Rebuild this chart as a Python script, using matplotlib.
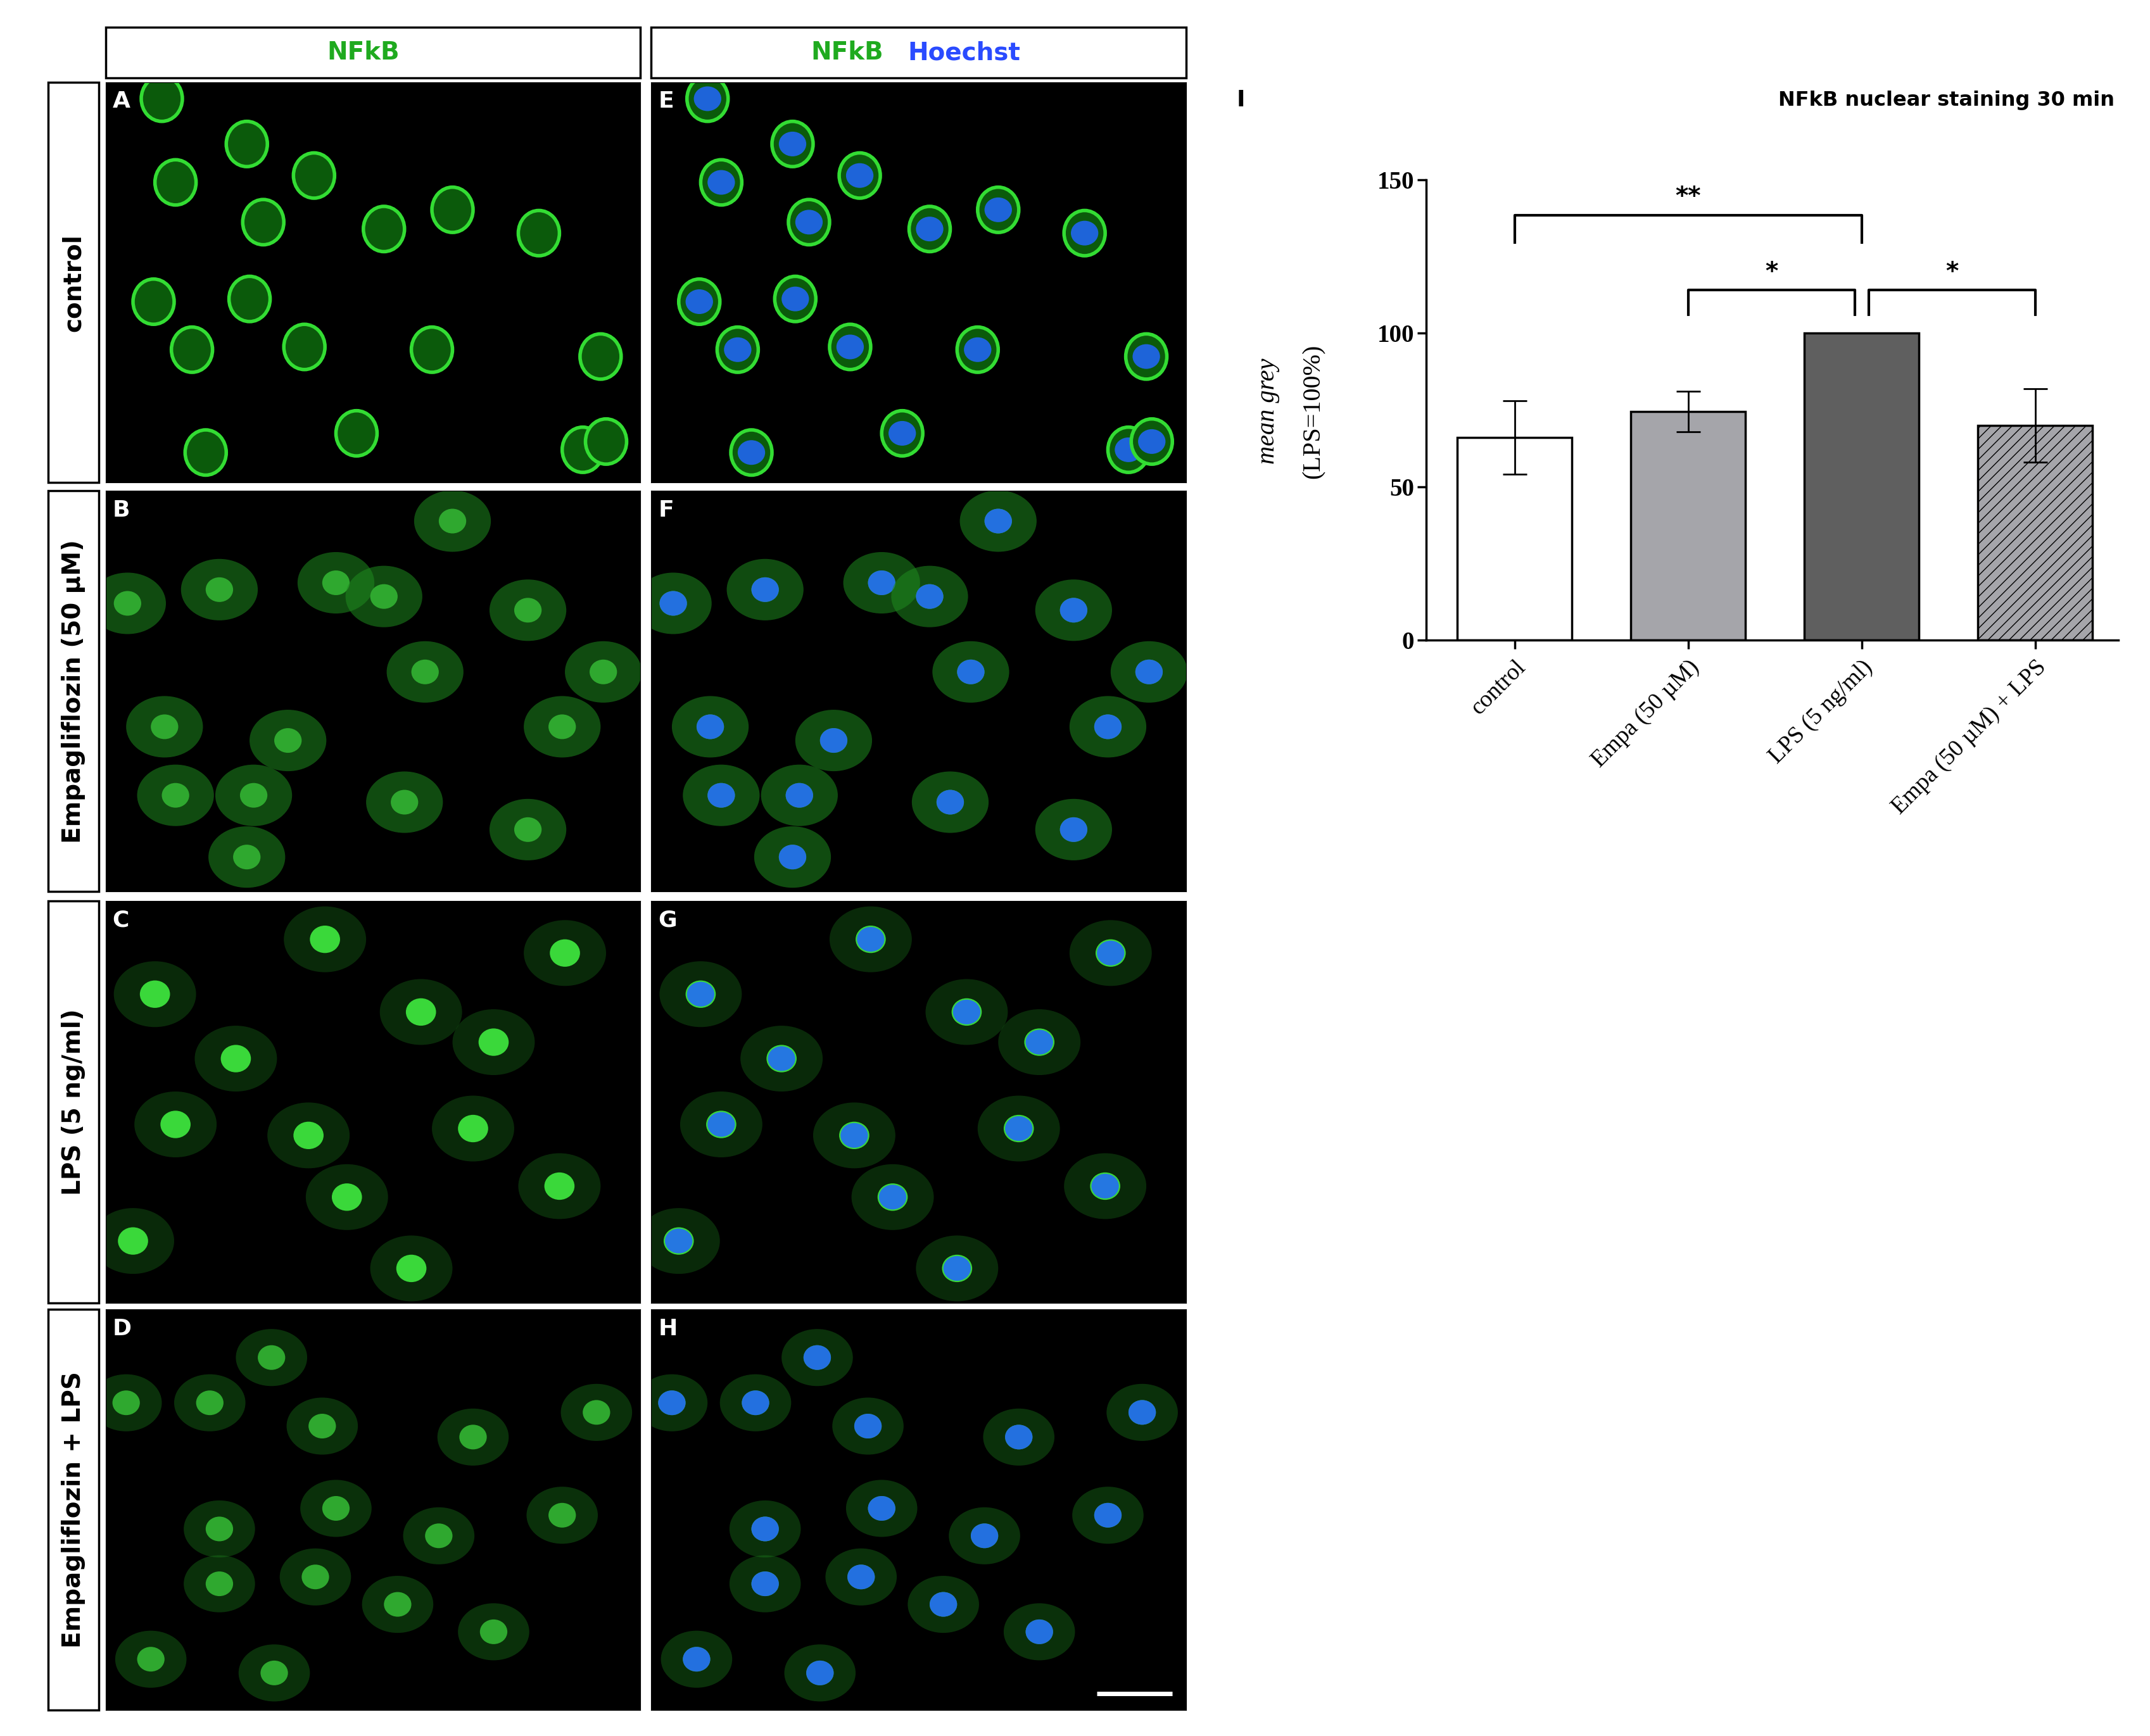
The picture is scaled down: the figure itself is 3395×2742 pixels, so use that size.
import matplotlib
matplotlib.use("Agg")
import matplotlib.pyplot as plt
from matplotlib.patches import Ellipse, Rectangle

categories = ["control", "Empa (50 µM)", "LPS (5 ng/ml)", "Empa (50 µM) + LPS"]
means = [66, 74.5, 100, 70]
errs = [12, 6.5, 0, 12]
bar_colors = ["white", "#a5a5aa", "#5f5f5f", "#a5a5aa"]
row_labels = ["control", "Empagliflozin (50 µM)", "LPS (5 ng/ml)", "Empagliflozin + LPS"]
left_letters = ["A", "B", "C", "D"]
right_letters = ["E", "F", "G", "H"]
cells = [
    [(118,72),(128,133),(180,105),(192,162),(229,128),(280,167),(330,153),(393,170),(112,220),(182,218),(140,255),(222,253),(315,255),(438,260),(260,316),(150,330),(425,328),(442,322)],
    [(93,440),(160,430),(245,425),(280,435),(385,445),(310,490),(120,530),(210,540),(440,490),(128,580),(185,580),(295,585),(385,605),(180,625),(330,380),(410,530)],
    [(113,725),(237,685),(172,772),(307,738),(360,760),(412,695),(128,820),(225,828),(345,823),(408,865),(253,873),(97,905),(300,925)],
    [(92,1023),(153,1023),(198,990),(235,1040),(345,1048),(435,1030),(245,1100),(160,1115),(320,1120),(410,1105),(160,1155),(230,1150),(290,1170),(360,1190),(200,1220),(110,1210)],
]
row_tops = [60, 358, 657, 955]
row_bots = [352, 650, 950, 1247]

W, H = 1568, 1266
fig = plt.figure(figsize=(33.95, 27.42), dpi=100)
def fr(x0, y0, x1, y1):
    return [x0/W, 1-y1/H, (x1-x0)/W, (y1-y0)/H]

# headers
for (x0, x1) in [(77, 467), (475, 865)]:
    fig.patches.append(Rectangle((x0/W, 1-57/H), (x1-x0)/W, 37/H, transform=fig.transFigure,
                                 fill=False, ec="black", lw=2.5))
fig.text(265/W, 1-38.5/H, "NFkB", color="#1faa1f", fontsize=28, fontweight="bold", ha="center", va="center")
fig.text(618/W, 1-38.5/H, "NFkB", color="#1faa1f", fontsize=28, fontweight="bold", ha="center", va="center")
fig.text(662/W, 1-38.5/H, "Hoechst", color="#2a4bff", fontsize=28, fontweight="bold", ha="left", va="center")

styles = [(15, 0.9, False), (28, 0.55, True), (30, 0.3, True), (26, 0.35, True)]
for r in range(4):
    t, b = row_tops[r], row_bots[r]
    fig.patches.append(Rectangle((35/W, 1-b/H), 37/W, (b-t)/H, transform=fig.transFigure,
                                 fill=False, ec="black", lw=2.5))
    fig.text(53.5/W, 1-(t+b)/2/H, row_labels[r], rotation=90, fontsize=28, fontweight="bold",
             ha="center", va="center")
    rad, alpha, nucbright = styles[r]
    for c, (x0, x1) in enumerate([(77, 467), (475, 865)]):
        ax = fig.add_axes(fr(x0, t, x1, b))
        ax.set_facecolor("black")
        ax.set_xlim(77, 467); ax.set_ylim(b, t)
        ax.set_xticks([]); ax.set_yticks([])
        for (cx, cy) in cells[r]:
            if r == 0:
                ax.add_patch(Ellipse((cx, cy), 2*rad, 2.2*rad, fc="#0b5a0b", ec="#33dd33", lw=4))
            else:
                ax.add_patch(Ellipse((cx, cy), 2*rad, 1.6*rad, fc="#1f8a1f", alpha=alpha, ec="none"))
                if r == 2:
                    ax.add_patch(Ellipse((cx, cy), 22, 20, fc="#3ad83a", ec="none"))
                else:
                    ax.add_patch(Ellipse((cx, cy), 20, 18, fc="#2fa82f", ec="none"))
            if c == 1:
                ax.add_patch(Ellipse((cx, cy), 20, 18, fc="#2266ff", alpha=0.85, ec="none"))
        letter = left_letters[r] if c == 0 else right_letters[r]
        ax.text(82, t+14, letter, color="white", fontsize=26, fontweight="bold", ha="left", va="center")
        if r == 3 and c == 1:
            ax.plot([800-398, 855-398], [1235, 1235], color="white", lw=5, solid_capstyle="butt")

# bar chart
ax = fig.add_axes(fr(1040, 131, 1545, 467))
x = list(range(len(categories)))
bars = ax.bar(x, means, width=0.66, color=bar_colors, edgecolor="black", linewidth=2.5, zorder=2)
plt.rcParams["hatch.linewidth"] = 5
bars[3].set_hatch("//")
ax.errorbar(x, means, yerr=errs, fmt="none", ecolor="black", elinewidth=2, capsize=14, capthick=2, zorder=3)
ax.set_xlim(-0.51, 3.48)
ax.set_ylim(0, 150)
ax.set_yticks([0, 50, 100, 150])
ax.set_xticks(x)
ax.set_xticklabels(categories, rotation=45, ha="right", rotation_mode="anchor",
                   fontfamily="Liberation Serif", fontsize=27)
for lab in ax.get_yticklabels():
    lab.set_fontfamily("Liberation Serif"); lab.set_fontsize(28); lab.set_fontweight("bold")
ax.spines["top"].set_visible(False); ax.spines["right"].set_visible(False)
ax.spines["left"].set_linewidth(2.5); ax.spines["bottom"].set_linewidth(2.5)
ax.tick_params(width=2.5, length=10)
ax.tick_params(axis="x", pad=8)
fig.text(925/W, 1-300/H, "mean grey", rotation=90, fontfamily="Liberation Serif", style="italic",
         fontsize=29, ha="center", va="center")
fig.text(958/W, 1-300/H, "(LPS=100%)", rotation=90, fontfamily="Liberation Serif",
         fontsize=29, ha="center", va="center")

def bracket(x0, x1, y, drop, label):
    ax.plot([x0, x0, x1, x1], [y-drop, y, y, y-drop], color="black", lw=3, clip_on=False)
    ax.text((x0+x1)/2, y+2, label, ha="center", va="bottom", fontsize=28, fontweight="bold")
bracket(0, 2, 138.5, 9, "**")
bracket(1, 1.96, 114, 8, "*")
bracket(2.04, 3, 114, 8, "*")

fig.text(905/W, 1-73/H, "I", fontsize=26, fontweight="bold", ha="center", va="center")
fig.text(1542/W, 1-73/H, "NFkB nuclear staining 30 min", fontsize=23, fontweight="bold",
         ha="right", va="center")

fig.savefig("out.png", dpi=100)
